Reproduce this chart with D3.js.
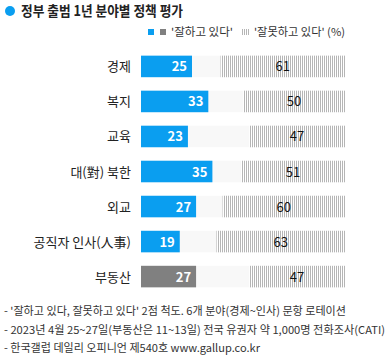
<!DOCTYPE html>
<html><head><meta charset="utf-8">
<script src="https://cdn.jsdelivr.net/npm/d3@7"></script>
<style>
body{margin:0;background:#fff;}
svg{display:block;font-family:"Noto Sans CJK KR","Noto Sans",sans-serif;}
</style></head><body>
<script>
const categories = ["경제","복지","교육","대(對) 북한","외교","공직자 인사(人事)","부동산"];
const positive = [25,33,23,35,27,19,27];
const negative = [61,50,47,51,60,63,47];
const barColors = ["#0a9ef0","#0a9ef0","#0a9ef0","#0a9ef0","#0a9ef0","#0a9ef0","#808080"];
const title = "정부 출범 1년 분야별 정책 평가";
const legendLabels = ["'잘하고 있다'","'잘못하고 있다' (%)"];
const notes = [
  "- '잘하고 있다, 잘못하고 있다' 2점 척도. 6개 분야(경제~인사) 문항 로테이션",
  "- 2023년 4월 25~27일(부동산은 11~13일) 전국 유권자 약 1,000명 전화조사(CATI)",
  "- 한국갤럽 데일리 오피니언 제540호 www.gallup.co.kr"
];

const W=391,H=360;
const svg=d3.select("body").append("svg").attr("width",W).attr("height",H);
const defs=svg.append("defs");
const pat=defs.append("pattern").attr("id","hatch").attr("patternUnits","userSpaceOnUse")
  .attr("width",2).attr("height",4);
pat.append("rect").attr("width",2).attr("height",4).attr("fill","#fff");
pat.append("rect").attr("width",1).attr("height",4).attr("fill","#b5b5b5");

// title
svg.append("circle").attr("cx",10).attr("cy",11).attr("r",5).attr("fill","#0a9ef0");
svg.append("text").attr("x",21).attr("y",16).attr("font-size",14).attr("font-weight","bold")
  .attr("fill","#222").attr("textLength",162).attr("lengthAdjust","spacingAndGlyphs").text(title);

// legend
const lg=svg.append("g").attr("font-size",11).attr("fill","#333");
lg.append("rect").attr("x",148).attr("y",29).attr("width",6).attr("height",6).attr("fill","#0a9ef0");
lg.append("rect").attr("x",160).attr("y",29).attr("width",6).attr("height",6).attr("fill","#808080");
lg.append("text").attr("x",171).attr("y",36).attr("textLength",62).attr("lengthAdjust","spacingAndGlyphs").text(legendLabels[0]);
lg.append("rect").attr("x",242).attr("y",29).attr("width",7).attr("height",6).attr("fill","url(#hatch)");
lg.append("text").attr("x",254).attr("y",36).attr("textLength",91).attr("lengthAdjust","spacingAndGlyphs").text(legendLabels[1]);

// scales
const x=d3.scaleLinear().domain([0,100]).range([141,345]);
const y=d3.scaleBand().domain(categories).range([49,294]).paddingInner(0.385).paddingOuter(0.19);

const rows=svg.append("g").selectAll("g").data(categories).join("g");
rows.append("rect").attr("x",x(0)).attr("y",d=>y(d)).attr("width",x(100)-x(0))
  .attr("height",y.bandwidth()).attr("fill","#f8f8f8");
rows.append("rect").attr("x",x(0)).attr("y",d=>y(d))
  .attr("width",(d,i)=>x(positive[i])-x(0)).attr("height",y.bandwidth())
  .attr("fill",(d,i)=>barColors[i]);
rows.append("rect").attr("x",(d,i)=>x(100-negative[i])).attr("y",d=>y(d))
  .attr("width",(d,i)=>x(100)-x(100-negative[i])).attr("height",y.bandwidth())
  .attr("fill","url(#hatch)");
rows.append("text").attr("x",(d,i)=>x(positive[i])-5).attr("y",d=>y(d)+y.bandwidth()/2+5)
  .attr("text-anchor","end").attr("font-size",13).attr("font-weight","bold").attr("fill","#fff")
  .text((d,i)=>positive[i]);
rows.append("text").attr("x",(d,i)=>(x(100-negative[i])+x(100))/2).attr("y",d=>y(d)+y.bandwidth()/2+5)
  .attr("text-anchor","middle").attr("font-size",13).attr("fill","#111")
  .text((d,i)=>negative[i]);
rows.append("text").attr("x",131).attr("y",d=>y(d)+y.bandwidth()/2+5)
  .attr("text-anchor","end").attr("font-size",13).attr("fill","#222").text(d=>d);

// notes
svg.append("g").selectAll("text").data(notes).join("text")
  .attr("x",4).attr("y",(d,i)=>315+i*18.5).attr("font-size",11).attr("fill","#333")
  .attr("textLength",(d,i)=>[342,381,256][i]).attr("lengthAdjust","spacingAndGlyphs")
  .text(d=>d);
</script>
</body></html>
